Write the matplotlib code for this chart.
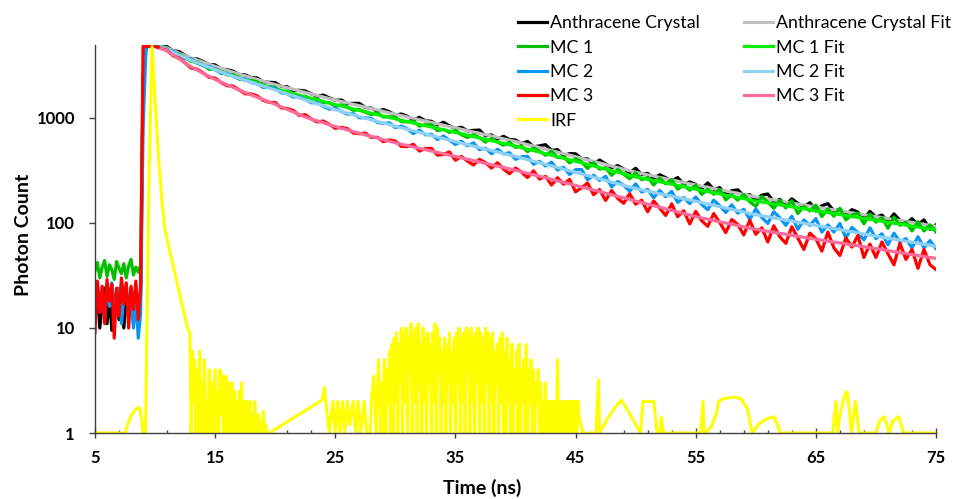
import numpy as np
import matplotlib
matplotlib.use("Agg")
import matplotlib.pyplot as plt
from matplotlib.ticker import FixedLocator, NullLocator, FixedFormatter

plt.rcParams['font.family'] = ['Lato', 'DejaVu Sans']

# ---------------- data ----------------
# time axis of the measured decays (ns)
t_pre = [5.0, 5.2, 5.4, 5.6, 5.8, 6.0, 6.2, 6.4, 6.6, 6.8,
         7.0, 7.2, 7.4, 7.6, 7.8, 8.0, 8.2, 8.4, 8.6, 8.8]
t_rise = [9.0, 9.25, 9.5, 10.0, 10.5]
t_decay = list(np.arange(11.0, 75.01, 0.5))
t_data = t_pre + t_rise + t_decay

anthracene = ([12, 22, 10, 18, 24, 11, 20, 9.5, 16, 23, 12, 19, 10, 21, 15, 24, 11, 18, 10, 22]
              + [2000, 4800, 4800, 4800, 4800]
              + [4770, 4372, 4294, 3958, 3683, 3653, 3446, 3226, 3205, 2919,
                 2880, 2790, 2598, 2574, 2427, 2406, 2204, 2190, 2173, 1996,
                 1984, 1823, 1834, 1809, 1698, 1610, 1653, 1553, 1474, 1485,
                 1368, 1380, 1378, 1259, 1245, 1159, 1205, 1146, 1069, 1091,
                 1038, 958, 1016, 940, 930, 858, 911, 842, 793, 816,
                 754, 762, 768, 676, 690, 630, 669, 624, 618, 570,
                 599, 532, 543, 557, 491, 500, 438, 458, 456, 411,
                 408, 363, 398, 366, 337, 352, 327, 301, 332, 290,
                 297, 266, 288, 270, 250, 271, 234, 246, 233, 212,
                 241, 209, 217, 188, 203, 207, 181, 186, 164, 184,
                 189, 159, 168, 149, 170, 154, 142, 156, 130, 146,
                 153, 130, 135, 119, 134, 127, 109, 129, 114, 119,
                 103, 122, 106, 98, 110, 96, 107, 87, 96])
mc1 = ([35, 42, 30, 38, 44, 31, 40, 36, 29, 43, 37, 33, 41, 30, 39, 45, 32, 38, 34, 40]
       + [2500, 4800, 4800, 4800, 4800]
       + [4535, 4154, 4082, 3758, 3462, 3433, 3207, 2908, 2920, 2768,
          2571, 2591, 2390, 2276, 2278, 2213, 2007, 1995, 1960, 1778,
          1804, 1691, 1585, 1612, 1513, 1523, 1401, 1398, 1300, 1337,
          1269, 1181, 1205, 1134, 1077, 1119, 1022, 1032,
          1011, 924, 916, 934, 836, 863, 862, 757, 781, 728,
          764, 693, 652, 693, 652, 589, 638, 590, 550, 589,
          524, 540, 478, 518, 484, 441, 483, 420, 427, 373,
          410, 381, 331, 375, 325, 336, 284, 323, 292, 263,
          300, 258, 272, 230, 268, 236, 259, 210, 229, 205,
          229, 187, 209, 188, 209, 166, 186, 165, 187, 159,
          144, 179, 158, 138, 165, 139, 163, 123, 144, 130,
          148, 115, 136, 116, 138, 107, 119, 124, 98, 122,
          102, 112, 89, 114, 95, 102, 84, 103, 84, 96, 82])
mc2 = ([18, 26, 14, 22, 12, 25, 16, 27, 13, 21, 24, 11, 19, 26, 15, 23, 10, 20, 8, 14]
       + [800, 4800, 4800, 4800, 4750]
       + [4435, 4304, 3980, 3685, 3657, 3336, 3136, 3096, 2909, 2658,
          2662, 2500, 2342, 2359, 2168, 2121, 1950, 1969, 1906, 1740,
          1700, 1581, 1591, 1505, 1397, 1401, 1287, 1213, 1248, 1155,
          1088, 1102, 1004, 1007, 989, 908, 886, 900,
          810, 839, 788, 710, 767, 691, 700, 624, 673, 615,
          559, 600, 543, 580, 499, 517, 456, 504, 455, 467,
          404, 428, 431, 363, 385, 349, 380, 319, 340, 290,
          322, 323, 258, 285, 254, 278, 221, 249, 229, 201,
          236, 197, 209, 174, 204, 178, 200, 157, 175, 153,
          177, 150, 134, 165, 146, 126, 149, 124, 135, 108,
          136, 113, 99, 128, 112, 95, 116, 87, 107, 95,
          110, 82, 96, 82, 99, 72, 91, 81, 69, 90,
          71, 79, 62, 80, 66, 71, 58, 74, 58, 68, 57])
mc3 = ([9, 28, 14, 25, 11, 29, 18, 26, 8, 24, 13, 30, 17, 27, 10, 25, 15, 28, 12, 26]
       + [4800, 4800, 4800, 4800, 4600]
       + [4394, 3910, 3723, 3350, 2988, 2917, 2687, 2440, 2400, 2173,
          2029, 2014, 1850, 1702, 1693, 1625, 1470, 1409, 1404, 1247,
          1232, 1181, 1056, 1076, 980, 916, 936, 873, 797, 815,
          793, 720, 708, 718, 652, 655, 595, 618,
          603, 537, 534, 562, 484, 512, 514, 443, 449, 475,
          396, 430, 389, 357, 403, 376, 333, 375, 327, 294,
          334, 305, 271, 314, 262, 278, 230, 270, 234, 260,
          198, 217, 240, 186, 208, 164, 204, 172, 154, 190,
          151, 165, 128, 162, 138, 118, 152, 115, 131, 98,
          129, 105, 93, 123, 101, 81, 108, 97, 77, 106,
          78, 90, 66, 94, 74, 64, 92, 72, 56, 80,
          71, 54, 82, 58, 49, 72, 59, 76, 47, 63,
          47, 66, 51, 40, 64, 45, 56, 37, 56, 40, 36])

# fitted curves
t_fit = [10.5, 11, 12, 13, 14, 15, 16, 18, 20, 22.5, 25, 27.5, 30, 35, 40, 45,
         50, 55, 60, 65, 70, 75]
anthracene_fit = [4800, 4650, 4150, 3740, 3400, 3100, 2840, 2420, 2080, 1750, 1480, 1270,
                  1085, 805, 597, 428, 304, 230, 177, 142, 115, 93]
mc1_fit = [4800, 4450, 3930, 3500, 3170, 2870, 2620, 2230, 1900, 1590, 1340, 1145,
           980, 728, 540, 387, 275, 210, 162, 131, 106, 86]
mc2_fit = [4750, 4480, 3980, 3550, 3200, 2880, 2610, 2190, 1850, 1490, 1200, 995,
           835, 595, 430, 304, 213, 161, 120, 95, 75, 60]
mc3_fit = [4600, 4350, 3650, 3080, 2660, 2330, 2070, 1660, 1350, 1020, 830, 690,
           580, 430, 318, 228, 162, 115, 87, 70, 57, 46]

# instrument response function
irf_t_a = [5.0, 7.5, 7.7, 8.0, 8.3, 8.6, 8.75, 8.9, 9.0, 9.2, 9.5, 9.75, 10.0, 10.3, 10.6,
           10.8, 11.2, 11.6, 12.0, 12.4, 12.7]
irf_v_a = [1, 1, 1.2, 1.45, 1.65, 1.75, 1.7, 1.3, 1, 1, 300, 4800, 1500, 400, 150,
           90, 55, 35, 22, 14, 10]
irf_v_tail = [9, 1, 6, 2, 5, 1, 4, 1, 6, 1,
              3, 1, 5, 1, 2, 1, 4, 1, 1, 3,
              1, 4, 1, 2.5, 1, 4, 1.5, 3.5, 1, 1,
              3.5, 1, 2, 3, 1, 3, 1, 2.5, 1, 2,
              1, 2.5, 1, 3, 1, 2, 1, 2, 1.5, 1,
              2, 1, 1.5, 1, 2, 1, 1, 1.5, 1, 1.3,
              1, 1.6, 1, 1.2, 1, 1, 1]
irf_t_tail = list(np.linspace(12.9, 19.5, len(irf_v_tail)))
irf_t_mid = [23.9, 24.1, 24.3, 24.5, 24.8, 25.0, 25.2, 25.4, 25.6, 25.8, 26.0, 26.2, 26.5,
             26.7, 26.9, 27.1, 27.4, 27.6, 27.9, 28.0, 28.2, 28.4, 28.6]
irf_v_mid = [2.06, 2.7, 1.6, 1, 2, 1, 2, 1, 2, 1, 2, 1.2, 2,
             1, 2, 1, 2, 1, 1, 2, 3.5, 1, 5]
irf_v_dense = [1, 3, 1, 5, 1, 4, 2, 6, 1, 7,
               1, 8, 2, 9, 1, 7, 3, 10, 1, 9,
               2, 10, 1, 8, 4, 11, 1, 9, 2, 10,
               1, 11, 3, 7, 1, 10, 2, 8, 1, 9,
               3, 7, 1, 9, 2, 11, 1, 10, 4, 8,
               1, 6, 2, 8, 1, 7, 3, 9, 1, 6,
               2, 8, 1, 9, 3, 10, 1, 8, 2, 9,
               1, 10, 4, 9, 1, 10, 2, 8, 1, 9,
               3, 10, 1, 9, 2, 8, 1, 10, 3, 9,
               1, 8, 2, 9, 1, 6, 3, 7, 1, 8,
               2, 9, 1, 6, 1, 8, 2, 5, 1, 7,
               1, 4, 2, 6, 1, 7, 1, 4, 2, 5,
               1, 7, 1, 4, 2, 5, 1, 4, 1, 3,
               2, 4, 1, 3, 1, 2, 1, 3, 1, 2,
               1, 2, 1, 2, 1, 2, 1, 5, 1, 2,
               1, 2, 1, 1, 2, 1, 2, 1, 2, 2,
               1, 2, 2, 1, 2, 1.4]
irf_t_dense = list(np.linspace(28.8, 45.3, len(irf_v_dense)))
irf_t_b = [45.6, 46.7, 46.9, 47.0, 47.3, 47.7, 48.2, 48.8, 49.4, 50.0, 50.4, 50.6, 51.5,
           51.8, 52.0, 52.15, 52.3, 55.4, 55.6, 55.7, 55.8, 56.3, 56.7, 56.9, 57.3, 58.2,
           58.8, 59.3, 59.7, 60.2, 60.8, 61.5, 61.8, 62.0, 66.4, 66.67, 66.8, 67.0, 67.4,
           67.6, 67.8, 67.95, 68.3, 68.6, 70.0, 70.3, 70.67, 70.9, 71.1, 71.4, 71.9, 72.1,
           72.3, 75.0]
irf_v_b = [1, 1, 3.2, 1, 1.15, 1.4, 1.7, 2.06, 1.6, 1.2, 1, 2, 2,
           1, 1, 1.4, 1, 1, 2, 1, 1, 1.15, 1.5, 2.0, 2.12, 2.2,
           2.1, 1.7, 1, 1.2, 1.35, 1.43, 1.2, 1, 1, 2.0, 1, 1.5, 2.3,
           2.47, 1.6, 1, 2.0, 1, 1, 1.3, 1.43, 1.2, 1, 1.3, 1.43, 1.2,
           1, 1]
irf_t = irf_t_a + irf_t_tail + irf_t_mid + irf_t_dense + irf_t_b
irf_v = irf_v_a + irf_v_tail + irf_v_mid + irf_v_dense + irf_v_b

x_major = [5, 15, 25, 35, 45, 55, 65, 75]
x_minor = list(range(5, 76, 2))
y_major = [1, 10, 100, 1000]
y_labels = ['1', '10', '100', '1000']

# ---------------- figure ----------------
W, H = 955, 499
fig = plt.figure(figsize=(W / 100, H / 100), dpi=100)
L, R, B, T = 95, 936, 433, 44.6
ax = fig.add_axes([L / W, 1 - B / H, (R - L) / W, (B - T) / H])

lw_d = 2.3
lw_f = 2.3
# drawing order follows the spreadsheet series order
h_anth, = ax.plot(t_data, anthracene, color='#000000', lw=lw_d, label='Anthracene Crystal')
h_af, = ax.plot(t_fit, anthracene_fit, color='#BFBFBF', lw=lw_f, label='Anthracene Crystal Fit')
h_mc1, = ax.plot(t_data, mc1, color='#00C000', lw=lw_d, label='MC 1')
h_1f, = ax.plot(t_fit, mc1_fit, color='#00F000', lw=lw_f, label='MC 1 Fit')
h_mc2, = ax.plot(t_data, mc2, color='#0A96F0', lw=lw_d, label='MC 2')
h_2f, = ax.plot(t_fit, mc2_fit, color='#8FD0F5', lw=lw_f, label='MC 2 Fit')
h_mc3, = ax.plot(t_data, mc3, color='#FF0000', lw=lw_d, label='MC 3')
h_3f, = ax.plot(t_fit, mc3_fit, color='#FF6C9C', lw=lw_f, label='MC 3 Fit')
h_irf, = ax.plot(irf_t, irf_v, color='#FFFF00', lw=2.2, label='IRF')

ax.set_yscale('log')
ax.set_xlim(5, 75)
ax.set_ylim(1, 5000)

for s in ['top', 'right']:
    ax.spines[s].set_visible(False)
for s in ['left', 'bottom']:
    ax.spines[s].set_color('#404040')
    ax.spines[s].set_linewidth(1.0)

ax.xaxis.set_major_locator(FixedLocator(x_major))
ax.xaxis.set_minor_locator(FixedLocator(x_minor))
ax.yaxis.set_major_locator(FixedLocator(y_major))
ax.yaxis.set_major_formatter(FixedFormatter(y_labels))
ax.yaxis.set_minor_locator(NullLocator())

ax.tick_params(axis='x', which='major', direction='inout', length=7.5, width=1.0,
               color='#404040', pad=8.5, labelsize=12)
ax.tick_params(axis='x', which='minor', direction='in', length=2.5, width=1.0,
               color='#404040')
ax.tick_params(axis='y', which='major', direction='out', length=4.5, width=1.0,
               color='#404040', pad=10, labelsize=12)
for lab in ax.get_xticklabels() + ax.get_yticklabels():
    lab.set_fontweight('bold')

ax.set_xlabel('Time (ns)', fontsize=14, fontweight='bold')
ax.set_ylabel('Photon Count', fontsize=14, fontweight='bold')
ax.xaxis.set_label_coords((482 - L) / (R - L), -0.117)
ax.yaxis.set_label_coords(-0.075, 0.51)

handles = [h_anth, h_mc1, h_mc2, h_mc3, h_irf, h_af, h_1f, h_2f, h_3f]
leg = fig.legend(handles=handles, labels=[h.get_label() for h in handles], ncol=2,
                 loc='upper left', bbox_to_anchor=(506 / W, 1 - 3 / H), frameon=False,
                 fontsize=12.8, handlelength=1.63, handletextpad=0.17, columnspacing=2.48,
                 labelspacing=0.465, borderpad=0.2)
for h in leg.legend_handles:
    h.set_linewidth(2.3)

fig.savefig('out.png', dpi=100)
